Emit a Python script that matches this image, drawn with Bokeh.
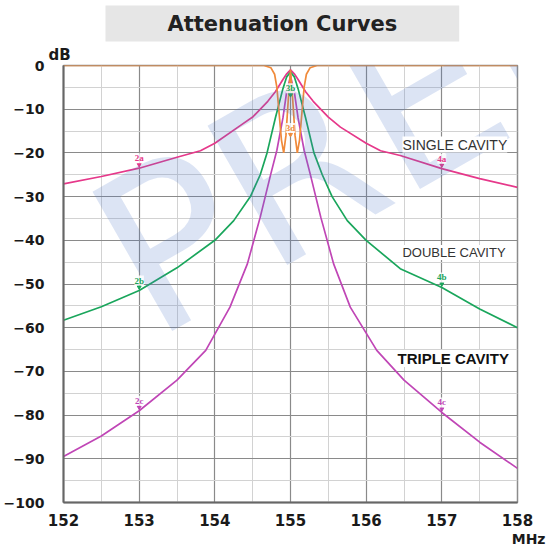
from bokeh.plotting import figure
from bokeh.models import Range1d, FixedTicker, Label, LabelSet, ColumnDataSource, Title
from bokeh.embed import file_html
from bokeh.resources import INLINE

# ---------------- data ----------------
x_ticks = [152, 153, 154, 155, 156, 157, 158]
x_minor = [152.5, 153.5, 154.5, 155.5, 156.5, 157.5]
y_ticks = [0, -10, -20, -30, -40, -50, -60, -70, -80, -90, -100]
y_minor = [-5, -15, -25, -35, -45, -55, -65, -75, -85, -95]

single_x = [152, 152.5, 153, 153.5, 153.81, 154, 154.34, 154.5, 154.7, 154.8, 154.9, 154.95, 155,
            155.05, 155.1, 155.2, 155.3, 155.5, 155.66, 156, 156.19, 156.45, 157, 157.5, 158]
single_y = [-27.1, -25.4, -23.5, -21.0, -19.5, -17.8, -13.7, -11.8, -8.2, -6.0, -3.2, -1.9, -1.0,
            -1.9, -3.2, -6.0, -8.2, -11.8, -14.1, -17.8, -19.5, -20.6, -23.6, -25.9, -27.9]

double_x = [152, 152.5, 153, 153.5, 154, 154.25, 154.47, 154.6, 154.69, 154.8, 154.9, 154.95, 155,
            155.05, 155.1, 155.2, 155.31, 155.42, 155.55, 155.75, 156, 156.45, 157, 157.5, 158]
double_y = [-58.3, -55.2, -51.5, -46.3, -40.0, -35.5, -30.0, -25.0, -20.0, -12.0, -5.3, -2.6, -1.5,
            -2.6, -5.3, -12.0, -20.0, -25.0, -30.0, -35.5, -40.0, -46.5, -50.8, -55.7, -60.0]

triple_x = [152, 152.5, 153, 153.5, 153.88, 154.2, 154.43, 154.6, 154.74, 154.82, 154.9, 154.95, 155,
            155.05, 155.1, 155.18, 155.26, 155.4, 155.57, 155.79, 156.14, 156.5, 157, 157.5, 158]
triple_y = [-89.5, -84.8, -79.0, -72.0, -65.2, -55.3, -45.4, -34.7, -24.8, -19.4, -12.0, -6.0, -2.5,
            -6.0, -12.0, -19.4, -24.8, -34.7, -45.4, -55.3, -65.2, -72.0, -79.4, -86.2, -92.2]

notch_x = [152, 154.65, 154.74, 154.79, 154.82, 154.85, 154.88, 154.91, 154.94, 154.97, 155.0,
           155.03, 155.06, 155.09, 155.12, 155.15, 155.18, 155.21, 155.26, 155.35, 158]
notch_y = [0, 0, -0.5, -2, -5, -11, -17, -20, -16, -8, -1,
           -8, -16, -20, -17, -11, -5, -2, -0.5, 0, 0]

point_x = [153, 157, 153, 157, 153, 157, 155, 155]
point_y = [-23.5, -23.6, -51.5, -50.8, -79.0, -79.4, -7.5, -16.6]
point_text = ["2a", "4a", "2b", "4b", "2c", "4c", "3b", "3d"]

PINK, GREEN, PURPLE, ORANGE = "#e6388a", "#1aa65c", "#c046b6", "#f08a3a"
point_color = [PINK, PINK, GREEN, GREEN, PURPLE, PURPLE, GREEN, ORANGE]

# ---------------- figure ----------------
p = figure(width=550, height=548, output_backend="svg", toolbar_location=None,
           x_range=Range1d(152, 158), y_range=Range1d(-100, 0),
           min_border_left=63, min_border_right=33, min_border_top=65, min_border_bottom=46)
p.background_fill_color = "white"
p.border_fill_color = "white"
p.outline_line_color = "#8c8c8c"
p.outline_line_width = 1.5

p.xaxis.ticker = FixedTicker(ticks=x_ticks, minor_ticks=x_minor)
p.yaxis.ticker = FixedTicker(ticks=y_ticks, minor_ticks=y_minor)
for ax in (p.xaxis, p.yaxis):
    ax.axis_line_color = "#666666"
    ax.axis_line_width = 2
    ax.major_tick_line_color = None
    ax.minor_tick_line_color = None
    ax.major_label_text_font = "DejaVu Sans"
    ax.major_label_text_font_style = "bold"
    ax.major_label_text_color = "#1a1a1a"
p.xaxis.major_label_text_font_size = "15px"
p.yaxis.major_label_text_font_size = "14px"
p.xaxis.major_label_standoff = 5
p.yaxis.major_label_standoff = 13

for g in (p.xgrid, p.ygrid):
    g.grid_line_color = "#8a8a8a"
    g.grid_line_width = 1.2
    g.minor_grid_line_color = "#d2d2d2"
    g.minor_grid_line_width = 1

# watermark
p.add_layout(Label(x=152.69, y=-48.1, text="PRELIMINARY", angle=0.52,
                   text_font="DejaVu Sans", text_font_size="220px",
                   text_color="#5078c8", text_alpha=0.2, text_align="left",
                   text_baseline="alphabetic"))

p.line(single_x, single_y, line_color=PINK, line_width=1.7)
p.line(double_x, double_y, line_color=GREEN, line_width=1.7)
p.line(triple_x, triple_y, line_color=PURPLE, line_width=1.7)
p.line(notch_x, notch_y, line_color=ORANGE, line_width=1.7)

src = ColumnDataSource(dict(x=point_x, y=point_y, t=point_text, c=point_color,
                            my=[v + 0.8 for v in point_y]))
p.scatter("x", "my", source=src, marker="inverted_triangle", size=4,
          fill_color="c", line_color="c")
p.add_layout(LabelSet(x="x", y="y", text="t", source=src, text_color="c",
                      text_font="DejaVu Sans", text_font_size="9px", text_font_style="bold",
                      text_align="center", text_baseline="bottom", y_offset=5,
                      background_fill_color="white", background_fill_alpha=0.8))

# curve names
p.add_layout(Label(x=156.48, y=-18.08, text="SINGLE CAVITY", text_font="Liberation Sans",
                   text_font_size="14px", text_color="#333333", text_baseline="middle",
                   background_fill_color="white"))
p.add_layout(Label(x=156.48, y=-42.8, text="DOUBLE CAVITY", text_font="Liberation Sans",
                   text_font_size="13px", text_color="#333333", text_baseline="middle",
                   background_fill_color="white"))
p.add_layout(Label(x=156.414, y=-67.05, text="TRIPLE CAVITY", text_font="Liberation Sans",
                   text_font_size="15px", text_font_style="bold", text_color="#111111",
                   text_baseline="middle", background_fill_color="white"))

# title box, units (in side panels so they are not clipped)
t_main = Title(text="Attenuation Curves", align="left", offset=42, standoff=0,
               text_font="DejaVu Sans", text_font_size="21px", text_font_style="bold",
               text_color="#222222", background_fill_color="#e6e6e6", padding=(62, 6))
t_db = Title(text="dB", align="left", offset=-15, standoff=4, text_font="DejaVu Sans",
             text_font_size="15px", text_font_style="bold", text_color="#1a1a1a")
t_mhz = Title(text="MHz", align="right", offset=-28, standoff=0, text_font="DejaVu Sans",
              text_font_size="14px", text_font_style="bold", text_color="#1a1a1a")
p.add_layout(t_db, "above")
p.add_layout(t_main, "above")
p.add_layout(t_mhz, "below")

open("out.html", "w").write(file_html(p, INLINE))
